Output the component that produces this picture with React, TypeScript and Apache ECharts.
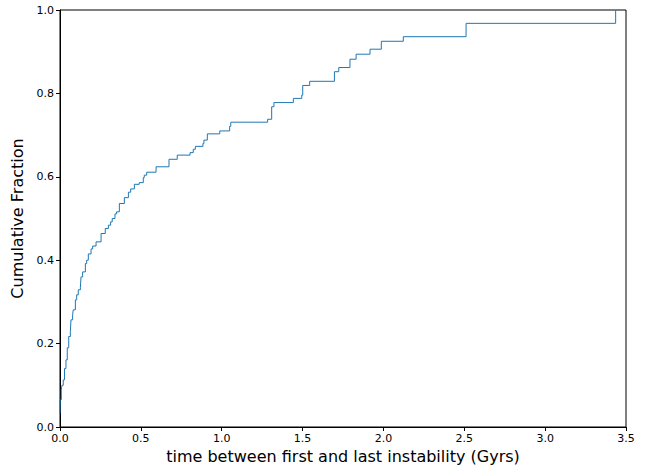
import React, { useEffect, useRef } from "react";
import * as echarts from "echarts";

// Step points: time (Gyrs) where the cumulative fraction jumps, and the value after the jump
const stepTimes: number[] = [
  0.0, 0.001, 0.008, 0.012, 0.02, 0.028, 0.037, 0.045, 0.054, 0.064, 0.068, 0.078, 0.082,
  0.095, 0.103, 0.113, 0.126, 0.13, 0.14, 0.157, 0.165, 0.175, 0.192, 0.202, 0.223, 0.254,
  0.28, 0.299, 0.313, 0.323, 0.34, 0.35, 0.367, 0.398, 0.423, 0.437, 0.46, 0.49, 0.515,
  0.521, 0.536, 0.594, 0.674, 0.725, 0.804, 0.824, 0.837, 0.884, 0.89, 0.911, 0.988, 1.049,
  1.056, 1.284, 1.309, 1.323, 1.443, 1.495, 1.501, 1.544, 1.697, 1.724, 1.793, 1.831,
  1.917, 1.987, 2.123, 2.511, 3.436,
];
const cumFraction: number[] = [
  0.033, 0.065, 0.089, 0.1, 0.113, 0.14, 0.161, 0.19, 0.217, 0.229, 0.257, 0.269, 0.281,
  0.305, 0.317, 0.329, 0.335, 0.36, 0.372, 0.392, 0.4, 0.415, 0.427, 0.434, 0.444, 0.464,
  0.476, 0.484, 0.492, 0.5, 0.511, 0.516, 0.536, 0.55, 0.563, 0.571, 0.582, 0.586, 0.598,
  0.604, 0.611, 0.624, 0.642, 0.652, 0.658, 0.666, 0.673, 0.68, 0.688, 0.703, 0.71, 0.721,
  0.731, 0.738, 0.768, 0.778, 0.788, 0.796, 0.819, 0.829, 0.852, 0.862, 0.882, 0.894,
  0.906, 0.925, 0.936, 0.968, 1.0,
];

const xTitle = "time between first and last instability (Gyrs)";
const yTitle = "Cumulative Fraction";

export default function App() {
  const ref = useRef<HTMLDivElement>(null);
  useEffect(() => {
    if (!ref.current) return;
    const chart = echarts.init(ref.current, undefined, { renderer: "svg" });
    const font = "DejaVu Sans";
    chart.setOption({
      animation: false,
      backgroundColor: "#ffffff",
      grid: {
        left: 60,
        right: 31,
        top: 10,
        bottom: 41,
        outerBoundsMode: "none",
        containLabel: false,
        show: true,
        borderColor: "#000000",
        borderWidth: 1,
        backgroundColor: "transparent",
      },
      xAxis: {
        type: "value",
        min: 0,
        max: 3.5,
        interval: 0.5,
        name: xTitle,
        nameLocation: "middle",
        nameGap: 21,
        nameTextStyle: { fontFamily: font, fontSize: 16, color: "#000" },
        axisLine: { show: true, lineStyle: { color: "#000", width: 1 } },
        axisTick: { show: true, length: 4, lineStyle: { color: "#000" } },
        axisLabel: {
          fontFamily: font,
          fontSize: 11,
          color: "#000",
          margin: 6,
          formatter: (v: number) => v.toFixed(1),
        },
        splitLine: { show: false },
      },
      yAxis: {
        type: "value",
        min: 0,
        max: 1,
        interval: 0.2,
        name: yTitle,
        nameLocation: "middle",
        nameGap: 27,
        nameTextStyle: { fontFamily: font, fontSize: 16, color: "#000" },
        axisLine: { show: true, lineStyle: { color: "#000", width: 1 } },
        axisTick: { show: true, length: 4, lineStyle: { color: "#000" } },
        axisLabel: {
          fontFamily: font,
          fontSize: 11,
          color: "#000",
          margin: 6,
          formatter: (v: number) => v.toFixed(1),
        },
        splitLine: { show: false },
      },
      series: [
        {
          type: "line",
          step: "end",
          showSymbol: false,
          symbol: "none",
          data: stepTimes.map((t, i) => [t, cumFraction[i]]),
          lineStyle: { color: "#1f77b4", width: 1 },
          clip: true,
        },
      ],
    });
    return () => chart.dispose();
  }, []);
  return <div ref={ref} style={{ width: 657, height: 468, position: "absolute", left: 0, top: 0 }} />;
}
